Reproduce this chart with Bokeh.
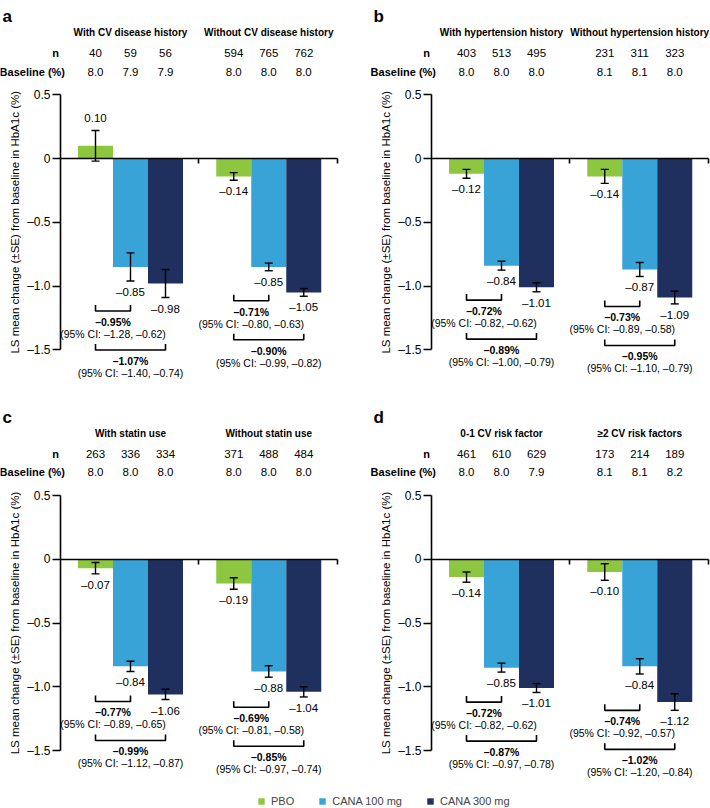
import math
from bokeh.plotting import figure
from bokeh.models import (Range1d, LinearAxis, FixedTicker, ColumnDataSource,
                          Whisker, TeeHead, Legend, LegendItem)
from bokeh.core.properties import value
from bokeh.embed import file_html
from bokeh.resources import INLINE

# ---------------- data ----------------
treatments = ["PBO", "CANA 100 mg", "CANA 300 mg"]
colors = ["#8DC63F", "#38A3D7", "#1F2F5E"]

a_groups = ["With CV disease history", "Without CV disease history"]
a_n = [[40, 59, 56], [594, 765, 762]]
a_baseline = [[8.0, 7.9, 7.9], [8.0, 8.0, 8.0]]
a_mean = [[0.10, -0.85, -0.98], [-0.14, -0.85, -1.05]]
a_se = [[0.12, 0.11, 0.11], [0.03, 0.03, 0.03]]
a_diff = [[-0.95, -1.07], [-0.71, -0.90]]
a_ci = [[(-1.28, -0.62), (-1.40, -0.74)], [(-0.80, -0.63), (-0.99, -0.82)]]

b_groups = ["With hypertension history", "Without hypertension history"]
b_n = [[403, 513, 495], [231, 311, 323]]
b_baseline = [[8.0, 8.0, 8.0], [8.1, 8.1, 8.0]]
b_mean = [[-0.12, -0.84, -1.01], [-0.14, -0.87, -1.09]]
b_se = [[0.035, 0.035, 0.035], [0.055, 0.055, 0.05]]
b_diff = [[-0.72, -0.89], [-0.73, -0.95]]
b_ci = [[(-0.82, -0.62), (-1.00, -0.79)], [(-0.89, -0.58), (-1.10, -0.79)]]

c_groups = ["With statin use", "Without statin use"]
c_n = [[263, 336, 334], [371, 488, 484]]
c_baseline = [[8.0, 8.0, 8.0], [8.0, 8.0, 8.0]]
c_mean = [[-0.07, -0.84, -1.06], [-0.19, -0.88, -1.04]]
c_se = [[0.045, 0.04, 0.04], [0.045, 0.045, 0.04]]
c_diff = [[-0.77, -0.99], [-0.69, -0.85]]
c_ci = [[(-0.89, -0.65), (-1.12, -0.87)], [(-0.81, -0.58), (-0.97, -0.74)]]

d_groups = ["0-1 CV risk factor", "\u22652 CV risk factors"]
d_n = [[461, 610, 629], [173, 214, 189]]
d_baseline = [[8.0, 8.0, 7.9], [8.1, 8.1, 8.2]]
d_mean = [[-0.14, -0.85, -1.01], [-0.10, -0.84, -1.12]]
d_se = [[0.04, 0.035, 0.035], [0.065, 0.06, 0.065]]
d_diff = [[-0.72, -0.87], [-0.74, -1.02]]
d_ci = [[(-0.82, -0.62), (-0.97, -0.78)], [(-0.92, -0.57), (-1.20, -0.84)]]

y_ticks = [0.5, 0, -0.5, -1.0, -1.5]
y_label = "LS mean change (\u00b1SE) from baseline in HbA1c (%)"

# ---------------- layout ----------------
FONTNAME = "Liberation Sans"
FONT = value(FONTNAME)
W, H = 710, 808
PPU = 127.5   # px per y unit
UX = 35.0     # px per x unit (one bar)
col_axis_px = [60.0, 431.0]   # x of each column's y axis
row_tick_px = [94.3, 495.0]   # y of each row's 0.5 tick
GROUP_C = [2.0, 5.95]
MID_TICK, X_END = 3.95, 7.9


def xrange_for(px):
    return Range1d(-px / UX, (W - px) / UX)


def yrange_for(px):
    top = 0.5 + px / PPU
    return Range1d(top - H / PPU, top)


p = figure(width=W, height=H, output_backend="svg", toolbar_location=None,
           x_axis_type=None, y_axis_type=None,
           x_range=xrange_for(col_axis_px[0]), y_range=yrange_for(row_tick_px[0]),
           min_border=0, outline_line_color=None)
p.extra_x_ranges = {"right": xrange_for(col_axis_px[1])}
p.extra_y_ranges = {"bottom": yrange_for(row_tick_px[1])}
p.background_fill_color = "white"
p.border_fill_color = "white"


def fmt(v, nd=2):
    s = f"{abs(v):.{nd}f}"
    return ("\u2013" + s) if v < 0 else s


tick_over = {t: fmt(t, 1) if t != 0 else "0" for t in y_ticks}
tick_over[0.5] = "0.5"

panels = [
    ("a", 0, 0, a_groups, a_n, a_baseline, a_mean, a_se, a_diff, a_ci),
    ("b", 1, 0, b_groups, b_n, b_baseline, b_mean, b_se, b_diff, b_ci),
    ("c", 0, 1, c_groups, c_n, c_baseline, c_mean, c_se, c_diff, c_ci),
    ("d", 1, 1, d_groups, d_n, d_baseline, d_mean, d_se, d_diff, d_ci),
]

legend_renderers = None

for letter, col, row, groups, ns, bases, means, ses, diffs, cis in panels:
    xrn = "default" if col == 0 else "right"
    yrn = "default" if row == 0 else "bottom"
    kw = dict(x_range_name=xrn, y_range_name=yrn)

    # y axis
    yax = LinearAxis(fixed_location=0, bounds=(-1.5, 0.5),
                     ticker=FixedTicker(ticks=y_ticks),
                     major_label_overrides=tick_over,
                     major_tick_out=8, major_tick_in=0,
                     minor_tick_out=0, minor_tick_in=0,
                     axis_line_width=1.6, major_tick_line_width=1.6,
                     major_label_standoff=2,
                     major_label_text_font=FONTNAME,
                     major_label_text_font_size="12px",
                     major_label_text_color="black", **kw)
    p.add_layout(yax, "left")
    # zero line with group separators
    xax = LinearAxis(fixed_location=0, bounds=(0, X_END),
                     ticker=FixedTicker(ticks=[MID_TICK, X_END]),
                     major_label_overrides={MID_TICK: "", X_END: ""},
                     major_tick_out=5, major_tick_in=0,
                     minor_tick_out=0, minor_tick_in=0,
                     axis_line_width=1.6, major_tick_line_width=1.6, **kw)
    p.add_layout(xax, "below")

    bar_x = [[gc - 1, gc, gc + 1] for gc in GROUP_C]

    # bars
    rends = []
    for t in range(3):
        r = p.vbar(x=[bar_x[g][t] for g in range(2)],
                   top=[means[g][t] for g in range(2)], bottom=0,
                   width=1.0, fill_color=colors[t], line_color=None, **kw)
        rends.append(r)
    if legend_renderers is None:
        legend_renderers = rends

    # error bars and value labels
    xs, up, lo, vy, vtxt, voff = [], [], [], [], [], []
    for g in range(2):
        for t in range(3):
            m, s = means[g][t], ses[g][t]
            xs.append(bar_x[g][t]); up.append(m + s); lo.append(m - s)
            if m >= 0:
                vy.append(m + s); voff.append(-13)
            else:
                vy.append(m - s); voff.append(11)
            vtxt.append(fmt(m))
    wsrc = ColumnDataSource(dict(x=xs, upper=up, lower=lo))
    p.add_layout(Whisker(source=wsrc, base="x", upper="upper", lower="lower",
                         dimension="height", line_color="black", line_width=1.4,
                         upper_head=TeeHead(size=8, line_width=1.4),
                         lower_head=TeeHead(size=8, line_width=1.4),
                         level="annotation", **kw))
    p.text(x=xs, y=vy, text=vtxt, y_offset=voff, text_font=FONT,
           text_font_size="11.5px", text_align="center", text_baseline="middle",
           text_color="black", **kw)

    # header: titles, n, baseline
    p.text(x=GROUP_C, y=[0.5, 0.5], text=groups, y_offset=-62.5,
           text_font=FONT, text_font_size="10px", text_font_style="bold",
           text_align="center", text_baseline="middle", **kw)
    flat_x = [x for g in range(2) for x in bar_x[g]]
    p.text(x=flat_x, y=[0.5] * 6, text=[str(v) for g in ns for v in g],
           y_offset=-41.5, text_font=FONT, text_font_size="11.5px",
           text_align="center", text_baseline="middle", **kw)
    p.text(x=flat_x, y=[0.5] * 6, text=[f"{v:.1f}" for g in bases for v in g],
           y_offset=-23.3, text_font=FONT, text_font_size="11.5px",
           text_align="center", text_baseline="middle", **kw)
    p.text(x=[0, 0], y=[0.5, 0.5], text=["n", "Baseline (%)"],
           x_offset=[-1.5, 4.5], y_offset=[-41.5, -23.3], text_font=FONT,
           text_font_size="11px", text_font_style="bold",
           text_align="right", text_baseline="middle", **kw)
    p.text(x=[0], y=[0.5], text=[letter], x_offset=-58, y_offset=-78.5,
           text_font=FONT, text_font_size="17px",
           text_font_style="bold", text_align="left",
           text_baseline="alphabetic", **kw)
    p.text(x=[0], y=[-0.5], text=[y_label], x_offset=-46,
           angle=math.pi / 2, text_font=FONT, text_font_size="11.5px",
           text_align="center", text_baseline="middle", **kw)

    # comparison brackets (placed below the CANA whiskers)
    bxs, bys, tx, ty, tt, toff, tstyle = [], [], [], [], [], [], []
    tick = 6 / PPU
    for g in range(2):
        yb1 = min(means[g][1] - ses[g][1] - 30 / PPU, means[g][2] - ses[g][2])
        yb2 = yb1 - 39 / PPU
        for k, yb in enumerate([yb1, yb2]):
            x0, x1 = bar_x[g][0], bar_x[g][k + 1]
            bxs.append([x0, x0, x1, x1])
            bys.append([yb + tick, yb, yb, yb + tick])
            xm = (x0 + x1) / 2
            lo_ci, hi_ci = cis[g][k]
            tx += [xm, xm]; ty += [yb, yb]
            tt += [fmt(diffs[g][k]) + "%", f"(95% CI: {fmt(lo_ci)}, {fmt(hi_ci)})"]
            toff += [11, 23]
            tstyle += ["bold", "normal"]
    p.multi_line(xs=bxs, ys=bys, line_color="black", line_width=1.6, **kw)
    p.text(x=tx, y=ty, text=tt, y_offset=toff, text_font=FONT,
           text_font_size="10.5px", text_font_style=tstyle,
           text_align="center", text_baseline="middle", **kw)

legend = Legend(items=[LegendItem(label=treatments[t], renderers=[legend_renderers[t]])
                       for t in range(3)],
                location=(257, 1), orientation="horizontal",
                glyph_width=8, glyph_height=8, label_standoff=6, spacing=24,
                padding=0, margin=0, label_height=12,
                label_text_font=FONTNAME, label_text_font_size="11px",
                border_line_color=None, background_fill_alpha=0)
p.add_layout(legend)

open("out.html", "w").write(file_html(p, INLINE))
